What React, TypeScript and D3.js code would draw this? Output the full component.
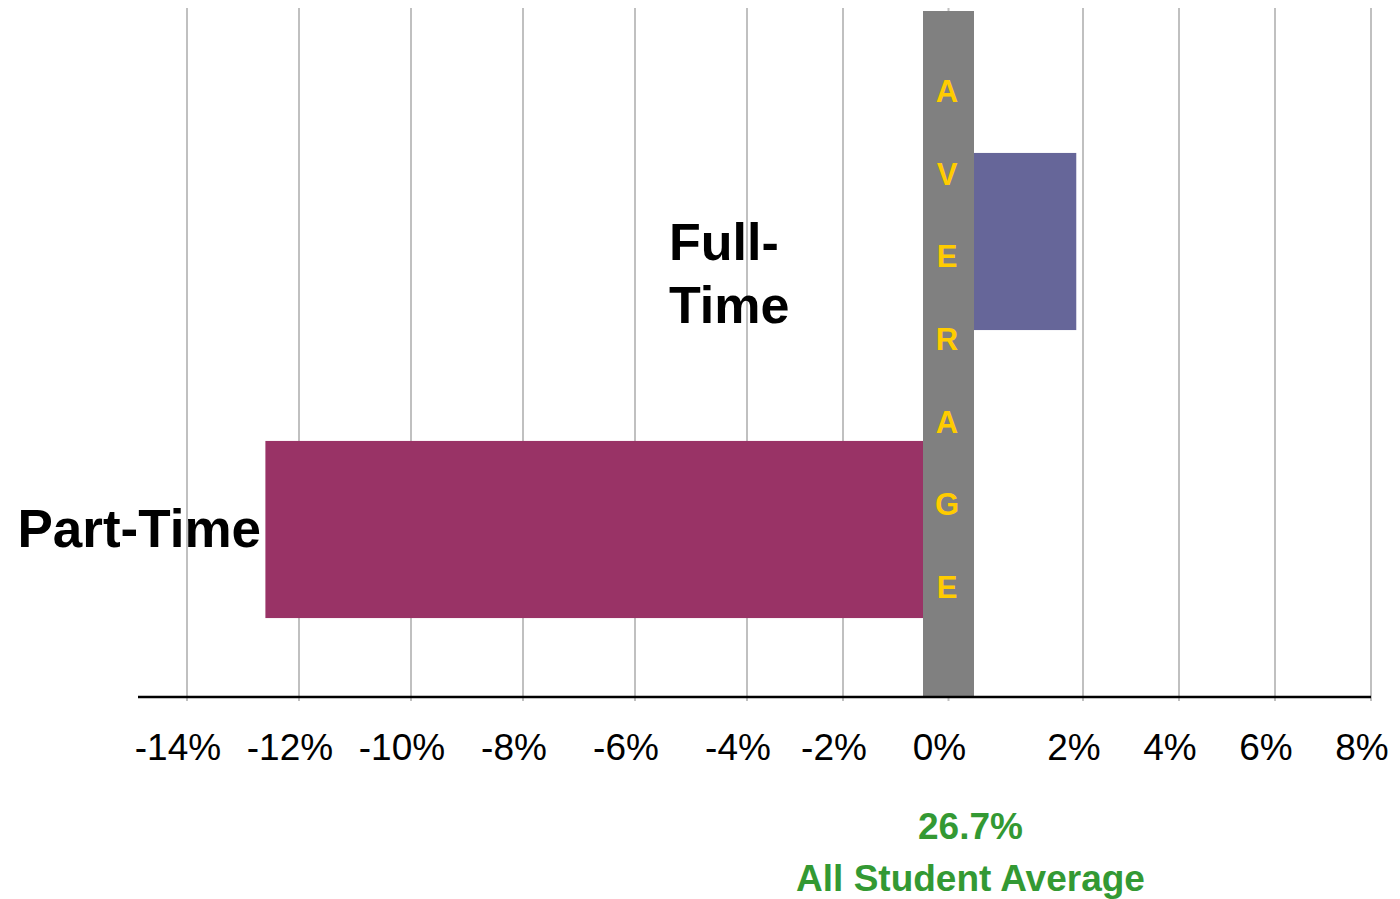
import React from "react";
import * as d3 from "d3";

// ---- data ----
const categories = ["Full-Time", "Part-Time"];
const categoryLines = [["Full-", "Time"], ["Part-Time"]];
const diffValues = [1.9, -12.6]; // percentage points vs. all-student average
const barColors = ["#666699", "#993366"];
const tickValues = [-14, -12, -10, -8, -6, -4, -2, 0, 2, 4, 6, 8];
const tickLabels = ["-14%", "-12%", "-10%", "-8%", "-6%", "-4%", "-2%", "0%", "2%", "4%", "6%", "8%"];
const averageValue = 26.7;
const averageLabel = "All Student Average";
const averageLetters = ["A", "V", "E", "R", "A", "G", "E"];

const W = 1400;
const H = 899;
const FONT = "'Liberation Sans', Arial, sans-serif";

export default function App() {
  // piecewise linear axis (the original gridlines are unevenly spaced)
  const x = d3
    .scaleLinear()
    .domain([-14, -4, -2, 0, 2, 8])
    .range([187, 747, 843, 948.5, 1083, 1371]);

  const y = d3
    .scaleBand<string>()
    .domain(categories)
    .range([97.5, 673.5])
    .paddingInner(0.385)
    .paddingOuter(0.1925);

  const gridTop = 8;
  const gridBottom = 701;
  const axisY = 697;
  const avgHalf = 25.5;
  const avgTop = 11;

  const letterY = d3
    .scalePoint<number>()
    .domain(averageLetters.map((_, i) => i))
    .range([102, 598]);

  return (
    <svg
      width={W}
      height={H}
      style={{ position: "absolute", left: 0, top: 0, background: "#fff" }}
      fontFamily={FONT}
    >
      {/* gridlines */}
      {tickValues.map((t) => (
        <line
          key={"g" + t}
          x1={x(t)}
          x2={x(t)}
          y1={gridTop}
          y2={gridBottom}
          stroke="#c0c0c0"
          strokeWidth={2}
        />
      ))}

      {/* bars */}
      {categories.map((c, i) => {
        const v = diffValues[i];
        const x0 = v >= 0 ? x(0) + avgHalf : x(v);
        const x1 = v >= 0 ? x(v) : x(0) - avgHalf;
        return (
          <rect
            key={c}
            x={x0}
            y={y(c)}
            width={x1 - x0}
            height={y.bandwidth()}
            fill={barColors[i]}
          />
        );
      })}

      {/* average band */}
      <rect
        x={x(0) - avgHalf}
        y={avgTop}
        width={avgHalf * 2}
        height={axisY - avgTop}
        fill="#808080"
      />
      {averageLetters.map((l, i) => (
        <text
          key={"l" + i}
          x={x(0) - 1.5}
          y={letterY(i)}
          textAnchor="middle"
          fontSize={31}
          fontWeight="bold"
          fill="#ffcc00"
        >
          {l}
        </text>
      ))}

      {/* axis line */}
      <line x1={138} x2={x(8)} y1={axisY} y2={axisY} stroke="#000" strokeWidth={2.5} />

      {/* tick labels */}
      {tickValues.map((t, i) => (
        <text
          key={"t" + t}
          x={x(t) - 9}
          y={760}
          textAnchor="middle"
          fontSize={37}
          fill="#000"
        >
          {tickLabels[i]}
        </text>
      ))}

      {/* category labels */}
      <text x={669} y={260} fontSize={52} fontWeight="bold" fill="#000">
        <tspan x={669}>{categoryLines[0][0]}</tspan>
        <tspan x={669} dy={63}>
          {categoryLines[0][1]}
        </tspan>
      </text>
      <text x={261} y={547} textAnchor="end" fontSize={53} fontWeight="bold" fill="#000">
        {categoryLines[1][0]}
      </text>

      {/* average annotation */}
      <text x={x(0) + 22} y={839} textAnchor="middle" fontSize={37} fontWeight="bold" fill="#339933">
        {averageValue.toFixed(1) + "%"}
      </text>
      <text x={x(0) + 22} y={891} textAnchor="middle" fontSize={37} fontWeight="bold" fill="#339933">
        {averageLabel}
      </text>
    </svg>
  );
}
